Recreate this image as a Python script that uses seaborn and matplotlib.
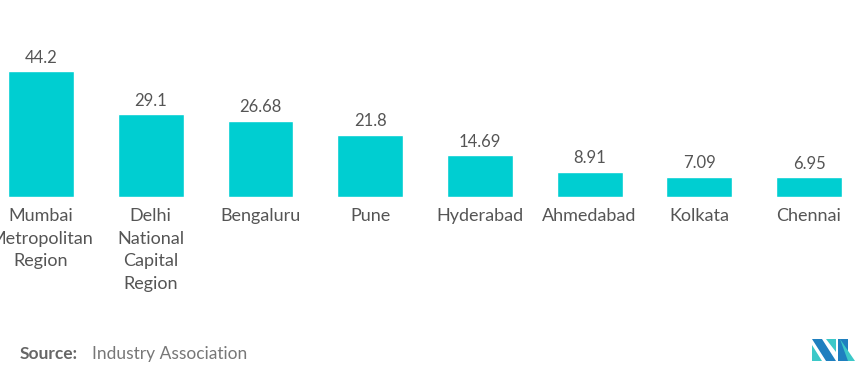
import matplotlib
matplotlib.use("Agg")
import matplotlib.pyplot as plt
import seaborn as sns
import pandas as pd
from matplotlib.patches import Polygon

cities = [
    "Mumbai\nMetropolitan\nRegion",
    "Delhi\nNational\nCapital\nRegion",
    "Bengaluru",
    "Pune",
    "Hyderabad",
    "Ahmedabad",
    "Kolkata",
    "Chennai",
]
values = [44.2, 29.1, 26.68, 21.8, 14.69, 8.91, 7.09, 6.95]
value_labels = ["44.2", "29.1", "26.68", "21.8", "14.69", "8.91", "7.09", "6.95"]

BAR_COLOR = "#00CED1"
TEXT_COLOR = "#555555"

sns.set_theme(style="white")
plt.rcParams["font.family"] = ["Lato", "DejaVu Sans"]

df = pd.DataFrame({"city": cities, "value": values})

fig = plt.figure(figsize=(8.65, 3.74), dpi=100)
ax = fig.add_axes([0, 0.473, 1, 0.42])

sns.barplot(data=df, x="city", y="value", color=BAR_COLOR, width=0.6,
            saturation=1, ax=ax)

ax.bar_label(ax.containers[0], labels=value_labels, padding=4,
             fontsize=12, color=TEXT_COLOR)

ax.set_xlim(-0.374, 7.51)
ax.set_ylim(0, 55.1)
ax.set_xlabel("")
ax.set_ylabel("")
ax.set_yticks([])
ax.tick_params(axis="x", length=0, pad=8, labelsize=13, labelcolor=TEXT_COLOR)
for lbl in ax.get_xticklabels():
    lbl.set_linespacing(1.5)
    lbl.set_verticalalignment("top")
sns.despine(ax=ax, left=True, bottom=True)

# source line
fig.text(20 / 865, 1 - 354 / 374, "Source:", fontsize=12.5, fontweight="bold",
         color="#666666", va="center")
fig.text(92 / 865, 1 - 354 / 374, "Industry Association", fontsize=12.5,
         color="#777777", va="center")

# logo
def px(x, y):
    return (x / 865, 1 - y / 374)

logo = [
    ([(812, 339), (822, 339), (836, 361), (826, 361)], "#1F7FBF"),
    ([(812, 345), (822, 361), (812, 361)], "#3CC8C8"),
    ([(826, 339), (836, 339), (836, 352)], "#3CC8C8"),
    ([(838, 339), (848, 339), (848, 361), (838, 361)], "#1F7FBF"),
    ([(840, 339), (855, 361), (848, 361)], "#3CC8C8"),
]
for pts, c in logo:
    fig.patches.append(Polygon([px(*p) for p in pts], closed=True,
                               transform=fig.transFigure, facecolor=c,
                               edgecolor="none"))

fig.savefig("out.png", dpi=100)
